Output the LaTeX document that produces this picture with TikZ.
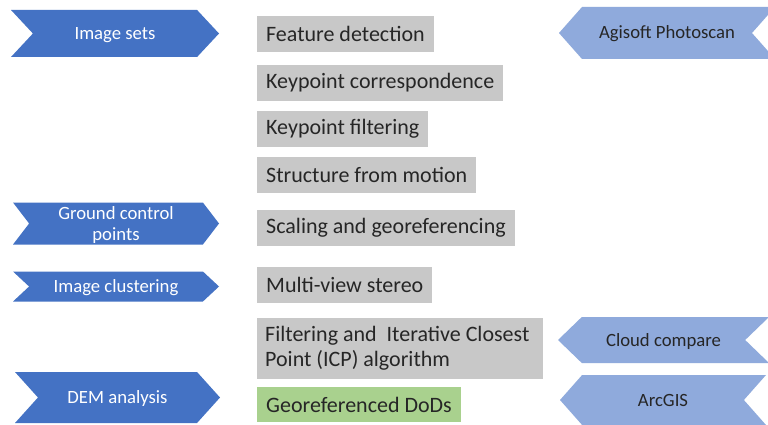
\documentclass[tikz,border=0pt]{standalone}
\usepackage{fontspec}
\setmainfont{Carlito}
\usepackage{tikz}
\usetikzlibrary{positioning,shapes.symbols}
\definecolor{myblue}{RGB}{68, 114, 196}
\definecolor{mylightblue}{RGB}{143, 170, 220}
\definecolor{mygrey}{RGB}{200, 200, 200}
\definecolor{mygreen}{RGB}{169, 209, 142}
\definecolor{mydark}{RGB}{38, 38, 38}
\tikzstyle{data}=[signal,signal to=east,signal from=west,fill=myblue,text=white,minimum width=208pt,inner sep=0pt,text height=12pt,text depth=0pt,align=center,font=\fontsize{18.7}{21}\selectfont]
\tikzstyle{tool}=[signal,signal to=west,signal from=east,fill=mylightblue,text=mydark,minimum width=212pt,inner sep=0pt,text height=12pt,text depth=0pt,font=\fontsize{18.7}{21}\selectfont]
\tikzstyle{stage}=[fill=mygrey,text=mydark,anchor=north west,minimum height=36pt,inner xsep=9pt,align=left,font=\fontsize{22}{25}\selectfont]

\begin{document}
\begin{tikzpicture}[x=1pt,y=-1pt]
\useasboundingbox[fill=white] (0,0) rectangle (768,425);

% processing chain
\node (FD) [stage] at (257,16) {Feature detection};
\node (KC) [stage,below right=12pt and 0pt of FD.south west] {Keypoint correspondence};
\node (KF) [stage,below right=10pt and 0pt of KC.south west] {Keypoint filtering};
\node (SFM) [stage,below right=10pt and 0pt of KF.south west] {Structure from motion};
\node (SG) [stage,below right=16pt and 0pt of SFM.south west] {Scaling and georeferencing};
\node (MVS) [stage,below right=21pt and 0pt of SG.south west] {Multi-view stereo};
\node (ICP) [stage,below right=14pt and 0pt of MVS.south west,minimum height=61pt,inner xsep=8pt,text width=270pt,align=flush left] {Filtering and\ \ Iterative Closest\\Point (ICP) algorithm};
\node (DOD) [stage,below right=8pt and 0pt of ICP.south west,fill=mygreen,minimum height=35pt] {Georeferenced DoDs};

% inputs
\node (IS) [data,minimum height=47pt,signal pointer angle=94] at (115,33.5) {Image sets};
\node (GCP) [data,minimum height=42pt,signal pointer angle=105,minimum width=206pt,text height=33pt] at (116,223.5) {Ground control\\points};
\node (IC) [data,minimum height=30pt,signal pointer angle=86,minimum width=206pt] at (116,286.5) {Image clustering};
\node (DEM) [data,minimum height=51pt,signal pointer angle=96,minimum width=205pt] at (117.5,397.5) {DEM analysis};

% software
\node (AP) [tool,minimum height=52pt,signal pointer angle=97,minimum width=216pt] at (667,33) {Agisoft Photoscan};
\node (CC) [tool,minimum height=46pt,signal pointer angle=88,minimum width=211pt] at (663.5,340) {Cloud compare};
\node (AG) [tool,minimum height=50pt,signal pointer angle=97,minimum width=206pt] at (663,400) {ArcGIS};
\end{tikzpicture}
\end{document}
